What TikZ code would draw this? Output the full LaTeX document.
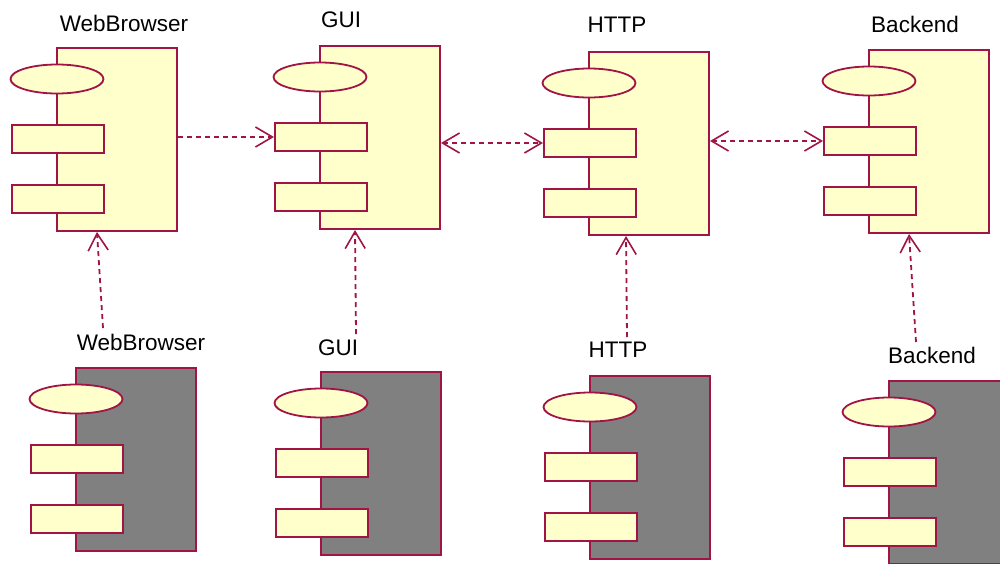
\documentclass[tikz,border=0pt]{standalone}
\usepackage{fontspec}
\setmainfont{Liberation Sans}
\usetikzlibrary{arrows.meta,shapes.geometric}

\definecolor{edge}{RGB}{160,20,70}
\definecolor{pale}{RGB}{255,255,204}
\definecolor{shade}{RGB}{128,128,128}

\tikzset{
  body/.style={draw=edge, line width=2pt, minimum width=120pt, minimum height=183pt, inner sep=0pt},
  port/.style={draw=edge, fill=pale, line width=2pt, minimum width=92pt, minimum height=28pt, inner sep=0pt},
  lollipop/.style={draw=edge, fill=pale, line width=1.8pt, ellipse, minimum width=93pt, minimum height=29pt, inner sep=0pt},
  caption/.style={font=\fontsize{22.5}{26}\selectfont, inner sep=0pt, text=black},
  barb/.style={Straight Barb[length=17pt, width=20pt, line width=1.6pt]},
  dep/.style={draw=edge, line width=1.8pt, dash pattern=on 5pt off 4pt,
    arrows={-Straight Barb[length=17pt, width=20pt, line width=1.6pt]}},
  depboth/.style={dep, arrows={Straight Barb[length=17pt, width=20pt, line width=1.6pt]-Straight Barb[length=17pt, width=20pt, line width=1.6pt]}}
}

% component box: name, left x, top y, body fill, caption, caption x, caption y
\newcommand{\umlcomp}[7]{%
  \node[body, fill=#4] (#1) at (#2+60, #3+91.5) {};
  \node[lollipop] (#1-e) at (#2, #3+31) {};
  \node[port] (#1-a) at (#2+1, #3+91) {};
  \node[port] (#1-b) at (#2+1, #3+151) {};
  \node[caption] (#1-l) at (#6, #7) {#5};
}

\begin{document}
\begin{tikzpicture}[x=1pt, y=-1pt]
\useasboundingbox (0,0) rectangle (1000,563);
\clip (0,0) rectangle (1000,563);

% upper row
\umlcomp{wb}{57}{48}{pale}{WebBrowser}{124}{23}
\umlcomp{gui}{320}{46}{pale}{GUI}{341}{20}
\umlcomp{http}{589}{52}{pale}{HTTP}{617}{25}
\umlcomp{be}{869}{50}{pale}{Backend}{915}{24}

% lower row
\umlcomp{wbB}{76}{368}{shade}{WebBrowser}{141}{342}
\umlcomp{guiB}{321}{372}{shade}{GUI}{338}{348}
\umlcomp{httpB}{590}{376}{shade}{HTTP}{618}{350}
\umlcomp{beB}{889}{381}{shade}{Backend}{932}{355}

% horizontal dependencies
\draw[dep] (wb.east |- gui-a.west) -- (gui-a.west);
\draw[depboth] (gui.east |- http-a.west) -- (http-a.west);
\draw[depboth] (http.east |- be-a.west) -- (be-a.west);

% vertical dependencies from the lower row
\coordinate (wbB-up) at (103,328);
\coordinate (guiB-up) at (356,334);
\coordinate (httpB-up) at (627,337);
\coordinate (beB-up) at (916,342);
\draw[dep] (wbB-up) -- ([xshift=41pt]wb.south west);
\draw[dep] (guiB-up) -- ([xshift=36pt]gui.south west);
\draw[dep] (httpB-up) -- ([xshift=38pt]http.south west);
\draw[dep] (beB-up) -- ([xshift=41pt]be.south west);
\end{tikzpicture}
\end{document}
